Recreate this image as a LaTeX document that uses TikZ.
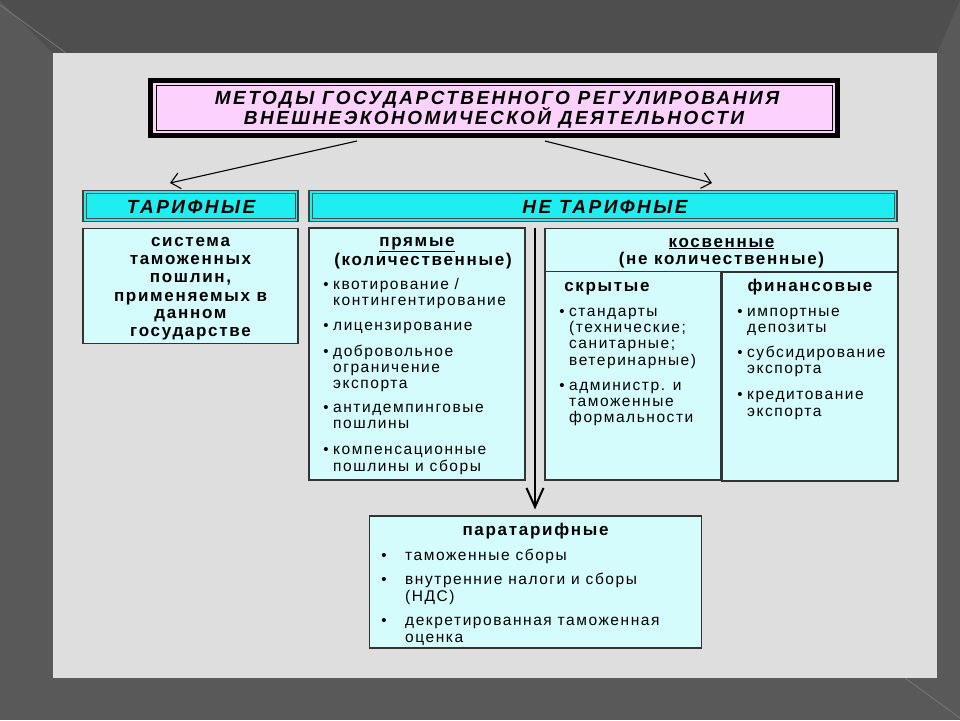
\documentclass[tikz,border=0pt]{standalone}
\usepackage{fontspec}
\setmainfont{Liberation Sans}
\newfontfamily\reg[LetterSpace=10]{Liberation Sans}
\newfontfamily\bld[LetterSpace=10]{Liberation Sans}
\newfontfamily\ttl[LetterSpace=13]{Liberation Sans}
\usetikzlibrary{arrows.meta}
\definecolor{frameA}{RGB}{78,78,78}
\definecolor{frameB}{RGB}{89,89,89}
\definecolor{frameL}{RGB}{120,120,120}
\definecolor{panel}{RGB}{222,222,222}
\definecolor{pinkbg}{RGB}{252,210,252}
\definecolor{cyanhd}{RGB}{30,238,240}
\definecolor{cyanlt}{RGB}{212,252,252}
\begin{document}
\begin{tikzpicture}[x=1pt,y=-1pt,
  hdbox/.style={draw=black!75,line width=1.2pt,fill=cyanhd},
  cbox/.style={draw=black!80,line width=1.2pt,fill=cyanlt},
  txt/.style={inner sep=0,anchor=base west,font=\reg\fontsize{15.5}{17}\selectfont},
  btxt/.style={inner sep=0,anchor=base,font=\bld\bfseries\fontsize{17}{18}\selectfont},
  htxt/.style={inner sep=0,anchor=base,font=\ttl\bfseries\itshape\fontsize{19}{20}\selectfont},
  bul/.style={inner sep=0,anchor=base,font=\reg\fontsize{15}{17}\selectfont},
  arr/.style={line width=1.1pt,-{Straight Barb[length=9pt,width=16pt,line width=1.1pt]}}
]
\useasboundingbox (0,0) rectangle (960,720);
% frame
\fill[frameB] (0,0) rectangle (960,720);
\fill[frameA] (0,0) -- (960,0) -- (937,53) -- (53,53) -- cycle;
\draw[frameL,line width=0.8pt] (0,5) -- (66,53);
\draw[frameL,line width=0.8pt] (905,678) -- (960,718);
\fill[panel] (53,53) rectangle (937,678);

% title
\path[draw=black,line width=5pt,fill=pinkbg] (150.5,80.5) rectangle (837.5,135.5);
\node[draw=black,line width=0.8pt,minimum width=676,minimum height=45,inner sep=0] (title) at (494,108) {};
\node[htxt] (t1) at (497,104) {МЕТОДЫ ГОСУДАРСТВЕННОГО РЕГУЛИРОВАНИЯ};
\node[htxt] (t2) at (494,124.5) {ВНЕШНЕЭКОНОМИЧЕСКОЙ ДЕЯТЕЛЬНОСТИ};

% arrows
\coordinate (aL0) at (357,141);
\coordinate (aL1) at (170,183);
\coordinate (aR0) at (545,141);
\coordinate (aR1) at (712,183);
\draw[arr] (aL0) -- (aL1);
\draw[arr] (aR0) -- (aR1);

% headers
\node[hdbox,minimum width=215,minimum height=31,inner sep=0] (tarhd) at (190.5,206) {};
\draw[black!70,line width=0.6pt] ([shift={(3.5,3.5)}]tarhd.north west) rectangle ([shift={(-3.5,-3.5)}]tarhd.south east);
\node[htxt,font=\ttl\bfseries\itshape\fontsize{19}{20}\selectfont] (tarhdt) at (191,213.5) {ТАРИФНЫЕ};
\node[hdbox,minimum width=588,minimum height=31,inner sep=0] (netarhd) at (603,206) {};
\draw[black!70,line width=0.6pt] ([shift={(3.5,3.5)}]netarhd.north west) rectangle ([shift={(-3.5,-3.5)}]netarhd.south east);
\node[htxt,font=\ttl\bfseries\itshape\fontsize{19}{20}\selectfont] (netarhdt) at (605,213.5) {НЕ ТАРИФНЫЕ};

% tariff box
\node[cbox,minimum width=215,minimum height=115,inner sep=0] (tarbox) at (190.5,286) {};
\node[btxt] (s1) at (190.5,246.5) {система};
\node[btxt] (s2) at (190.5,264.5) {таможенных};
\node[btxt] (s3) at (190.5,282.5) {пошлин,};
\node[btxt] (s4) at (190.5,301) {применяемых в};
\node[btxt] (s5) at (190.5,318.5) {данном};
\node[btxt] (s6) at (190.5,336.5) {государстве};

% direct box
\node[cbox,minimum width=216,minimum height=252,inner sep=0] (prbox) at (417,354) {};
\node[btxt] (p0) at (417,246.5) {\underline{прямые}};
\node[btxt] (p1) at (423,265) {(количественные)};
\node[bul] (pb1) at (326,289) {•};
\node[txt] (p2) at (333,289) {квотирование /};
\node[txt] (p3) at (333,305.5) {контингентирование};
\node[bul] (pb2) at (326,330) {•};
\node[txt] (p4) at (333,330) {лицензирование};
\node[bul] (pb3) at (326,356) {•};
\node[txt] (p5) at (333,356) {добровольное};
\node[txt] (p6) at (333,372) {ограничение};
\node[txt] (p7) at (333,388) {экспорта};
\node[bul] (pb4) at (326,412) {•};
\node[txt] (p8) at (333,412) {антидемпинговые};
\node[txt] (p9) at (333,428) {пошлины};
\node[bul] (pb5) at (326,454) {•};
\node[txt] (p10) at (333,454) {компенсационные};
\node[txt] (p11) at (333,471) {пошлины и сборы};

% indirect box
\node[cbox,minimum width=176,minimum height=209,inner sep=0] (fin) at (810,376.5) {};
\node[cbox,minimum width=176,minimum height=209,inner sep=0] (skr) at (633,375.5) {};
\node[cbox,minimum width=353,minimum height=43,inner sep=0] (kosv) at (721.5,250) {};
\node[btxt] (k0) at (721.5,247) {\underline{косвенные}};
\node[btxt] (k1) at (721.5,264) {(не количественные)};
\node[btxt] (k2) at (607,291) {скрытые};
\node[btxt] (k3) at (810,291) {финансовые};
\node[bul] (kb1) at (562,316) {•};
\node[txt] (k4) at (569,316) {стандарты};
\node[txt] (k5) at (569,332.5) {(технические;};
\node[txt] (k6) at (569,348.5) {санитарные;};
\node[txt] (k7) at (569,365) {ветеринарные)};
\node[bul] (kb2) at (562,390) {•};
\node[txt] (k8) at (569,390) {администр. и};
\node[txt] (k9) at (569,406) {таможенные};
\node[txt] (k10) at (569,422.5) {формальности};
\node[bul] (fb1) at (740,316) {•};
\node[txt] (f1) at (747,316) {импортные};
\node[txt] (f2) at (747,332) {депозиты};
\node[bul] (fb2) at (740,357) {•};
\node[txt] (f3) at (747,357) {субсидирование};
\node[txt] (f4) at (747,373) {экспорта};
\node[bul] (fb3) at (740,399) {•};
\node[txt] (f5) at (747,399) {кредитование};
\node[txt] (f6) at (747,416) {экспорта};

% paratariff box
\node[cbox,minimum width=332,minimum height=132,inner sep=0] (para) at (535.5,582) {};
\node[btxt] (r0) at (535.5,535) {паратарифные};
\node[bul] (rb1) at (384,560) {•};
\node[txt] (r1) at (405,560) {таможенные сборы};
\node[bul] (rb2) at (384,584) {•};
\node[txt] (r2) at (405,584) {внутренние налоги и сборы};
\node[txt] (r3) at (405,601) {(НДС)};
\node[bul] (rb3) at (384,625) {•};
\node[txt] (r4) at (405,625) {декретированная таможенная};
\node[txt] (r5) at (405,642) {оценка};

% vertical connector
\coordinate (vtop) at (535,228);
\draw[line width=2.6pt,-{Straight Barb[length=19pt,width=17pt,line width=2pt]}] (vtop) -- (para.north -| vtop) [shorten >=6pt];
\end{tikzpicture}
\end{document}
